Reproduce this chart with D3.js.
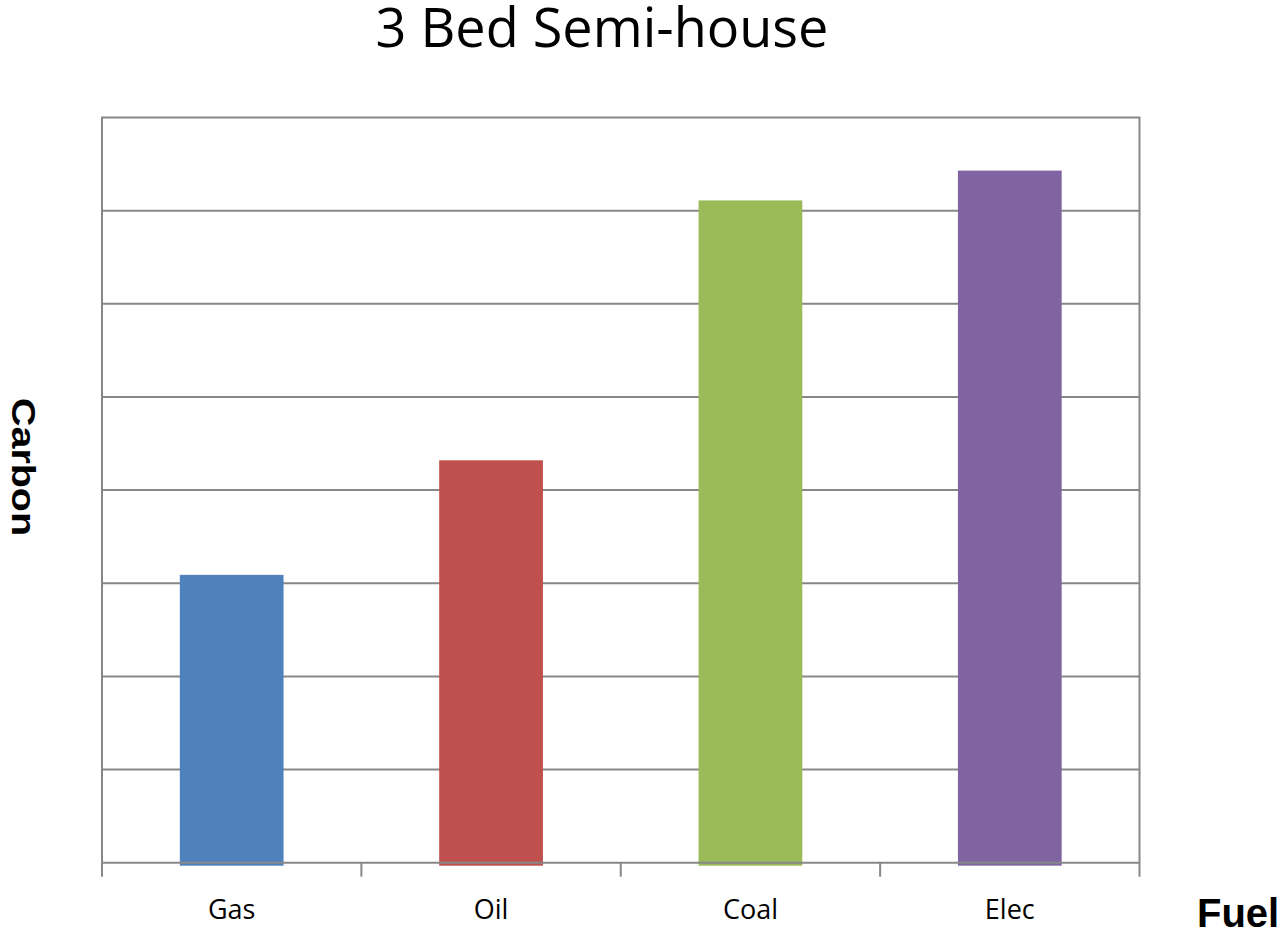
<!DOCTYPE html>
<html>
<head>
<meta charset="utf-8">
<script src="https://cdn.jsdelivr.net/npm/d3@7"></script>
<style>
    body { margin: 0; background: #fff; }
</style>
</head>
<body>
<div id="chart"></div>
<script>
// chart data
var fuels = ["Gas", "Oil", "Coal", "Elec"];
var carbon = [3.09, 4.32, 7.11, 7.43];
var barColours = ["#4F81BD", "#C0504D", "#9BBB59", "#8064A2"];
var gridTicks = [0, 1, 2, 3, 4, 5, 6, 7, 8];

var width = 1284, height = 934;
var plotLeft = 102, plotRight = 1139.5, plotTop = 117.5, plotBottom = 862.7;

var svg = d3.select("#chart").append("svg")
        .attr("width", width).attr("height", height);

// scales
var x = d3.scaleBand().domain(fuels).range([plotLeft, plotRight])
        .paddingInner(0.6).paddingOuter(0.3);
var xOuter = d3.scaleBand().domain(fuels).range([plotLeft, plotRight]);
var y = d3.scaleLinear().domain([0, 8]).range([plotBottom, plotTop]);

var grey = "#878787";

// gridlines
svg.append("g").selectAll("line").data(gridTicks.slice(1, -1)).enter()
        .append("line")
        .attr("x1", plotLeft).attr("x2", plotRight)
        .attr("y1", function (d) { return y(d); })
        .attr("y2", function (d) { return y(d); })
        .attr("stroke", grey).attr("stroke-width", 2);

// plot frame
svg.append("path")
        .attr("d", "M" + plotLeft + "," + y(0) + "V" + y(8) + "H" + plotRight + "V" + y(0))
        .attr("fill", "none").attr("stroke", grey).attr("stroke-width", 2);

// bars
svg.append("g").selectAll("rect").data(carbon).enter()
        .append("rect")
        .attr("x", function (d, i) { return x(fuels[i]); })
        .attr("width", x.bandwidth())
        .attr("y", function (d) { return y(d); })
        .attr("height", function (d) { return y(0) - y(d) + 3; })
        .attr("fill", function (d, i) { return barColours[i]; });

// x axis line and ticks
svg.append("line")
        .attr("x1", plotLeft).attr("x2", plotRight)
        .attr("y1", y(0)).attr("y2", y(0))
        .attr("stroke", grey).attr("stroke-width", 2);

var tickPos = fuels.map(function (f) { return xOuter(f); }).concat([plotRight]);
svg.append("g").selectAll("line").data(tickPos).enter()
        .append("line")
        .attr("x1", function (d) { return d; }).attr("x2", function (d) { return d; })
        .attr("y1", y(0)).attr("y2", y(0) + 14)
        .attr("stroke", grey).attr("stroke-width", 2);

// category labels
svg.append("g").selectAll("text").data(fuels).enter()
        .append("text")
        .attr("x", function (d) { return xOuter(d) + xOuter.bandwidth() / 2; })
        .attr("y", 919)
        .attr("text-anchor", "middle")
        .style("font-family", "'Open Sans', sans-serif")
        .style("font-size", "27px")
        .attr("fill", "#000")
        .text(function (d) { return d; });

// title
svg.append("text")
        .attr("x", 602).attr("y", 47)
        .attr("text-anchor", "middle")
        .style("font-family", "'Open Sans', sans-serif")
        .style("font-size", "54px")
        .attr("fill", "#000")
        .text("3 Bed Semi-house");

// axis titles
svg.append("text")
        .attr("x", 1197).attr("y", 927)
        .style("font-family", "'Liberation Sans', Arial, sans-serif")
        .style("font-weight", "bold")
        .style("font-size", "40px")
        .attr("fill", "#000")
        .text("Fuel");

svg.append("text")
        .attr("transform", "translate(12,467) rotate(90)")
        .attr("text-anchor", "middle")
        .attr("textLength", 138).attr("lengthAdjust", "spacingAndGlyphs")
        .style("font-family", "'Liberation Sans', Arial, sans-serif")
        .style("font-weight", "bold")
        .style("font-size", "33px")
        .attr("fill", "#000")
        .text("Carbon");
</script>
</body>
</html>
